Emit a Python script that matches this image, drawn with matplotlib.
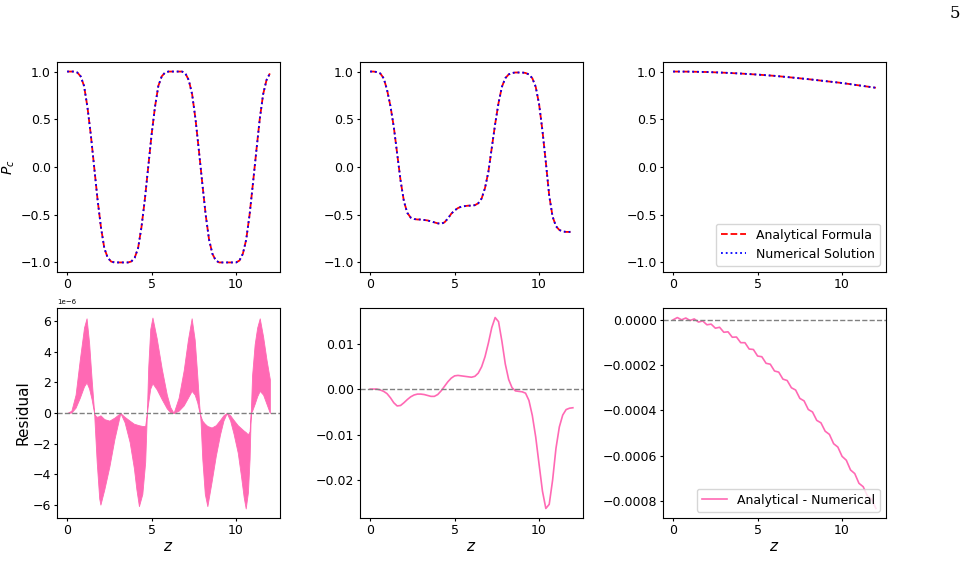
import numpy as np
import matplotlib
matplotlib.use("Agg")
import matplotlib.pyplot as plt

# z grid for the P_c curves
z_top = np.arange(0, 12.01, 0.2)

pc_a = [1.0, 1.0, 1.0, 0.99, 0.95, 0.85, 0.63, 0.34, 0.0, -0.34, -0.63,
        -0.85, -0.95, -0.99, -1.0, -1.0, -1.0, -1.0, -1.0, -0.99, -0.95,
        -0.85, -0.63, -0.34, 0.0, 0.34, 0.63, 0.85, 0.95, 0.99, 1.0, 1.0,
        1.0, 1.0, 1.0, 0.98, 0.91, 0.76, 0.50, 0.17, -0.17, -0.50, -0.76,
        -0.91, -0.98, -1.0, -1.0, -1.0, -1.0, -1.0, -1.0, -0.98, -0.91,
        -0.76, -0.50, -0.17, 0.17, 0.50, 0.76, 0.91, 0.98]

pc_b = [1.0, 1.0, 0.995, 0.98, 0.93, 0.81, 0.64, 0.42, 0.14, -0.14, -0.36,
        -0.48, -0.53, -0.545, -0.55, -0.55, -0.555, -0.56, -0.57, -0.58,
        -0.59, -0.595, -0.58, -0.54, -0.49, -0.455, -0.43, -0.415, -0.41,
        -0.405, -0.405, -0.40, -0.38, -0.33, -0.22, -0.05, 0.20, 0.45, 0.67,
        0.84, 0.93, 0.97, 0.985, 0.99, 0.99, 0.99, 0.985, 0.97, 0.93, 0.84,
        0.66, 0.38, 0.05, -0.30, -0.52, -0.62, -0.66, -0.675, -0.68, -0.68,
        -0.675]

z_c = np.arange(0, 13, 1.0)
pc_c = [1.0, 0.999, 0.995, 0.988, 0.979, 0.968, 0.955, 0.938, 0.92, 0.90,
        0.88, 0.855, 0.83]

# residual band of panel (a), upper / lower envelope in units of 1e-6
z_env = [0.0, 0.25, 0.5, 0.75, 1.0, 1.15, 1.3, 1.45, 1.58, 1.6, 1.62, 1.75,
         1.9, 1.97, 2.2, 2.5, 2.8, 3.15, 3.4, 3.7, 3.95, 4.1, 4.25, 4.45,
         4.62, 4.72, 4.8, 4.92, 5.05, 5.3, 5.6, 5.9, 6.1, 6.3, 6.6, 6.9,
         7.15, 7.37, 7.55, 7.7, 7.82, 7.86, 7.9, 8.0, 8.15, 8.3, 8.55, 8.8,
         9.05, 9.25, 9.45, 9.65, 9.85, 10.1, 10.3, 10.45, 10.57, 10.7, 10.8,
         10.87, 10.95, 11.1, 11.25, 11.4, 11.6, 11.8, 12.0]
res_a_hi = [0, 0.15, 1.2, 3.5, 5.6, 6.2, 4.6, 2.2, 0.3, 0, -0.1, -0.25, -0.2,
            -0.15, -0.4, -0.5, -0.3, 0, -0.25, -0.5, -0.7, -0.75, -0.8, -0.85,
            -0.85, 0, 3.0, 5.5, 6.25, 4.9, 2.9, 1.2, 0.4, 0, 1.0, 2.8, 4.8,
            6.2, 4.8, 2.5, 0.5, 0, -0.2, -0.5, -0.7, -0.85, -0.95, -0.8,
            -0.45, -0.15, 0, -0.15, -0.45, -0.8, -1.0, -1.15, -1.25, -1.4,
            -1.2, 0, 2.5, 4.5, 5.6, 6.2, 5.0, 3.5, 2.2]
res_a_lo = [0, 0.03, 0.35, 1.0, 1.75, 2.0, 1.6, 0.9, 0.1, 0, -0.5, -3.2,
            -5.6, -6.0, -5.0, -3.5, -1.7, 0, -0.6, -1.9, -3.6, -5.0, -6.1,
            -5.3, -3.2, 0, 0.7, 1.6, 1.95, 1.55, 0.9, 0.3, 0.05, 0, 0.15, 0.5,
            1.0, 1.45, 1.2, 0.7, 0.1, 0, -0.6, -3.0, -5.3, -6.1, -4.5, -2.8,
            -1.4, -0.5, 0, -0.5, -1.35, -2.6, -4.2, -5.5, -6.25, -5.2, -3.0,
            0, 0.15, 0.6, 1.1, 1.45, 1.2, 0.6, 0.0]

# panel (b) residual on the same 0.2 grid as the P_c curves
res_b = [0, 0, 0, -0.0002, -0.0005, -0.001, -0.0019, -0.003, -0.0037,
         -0.0036, -0.003, -0.0023, -0.0017, -0.0013, -0.0011, -0.0011,
         -0.0012, -0.0014, -0.0016, -0.0016, -0.0012, -0.0004, 0.0006,
         0.0016, 0.0024, 0.0029, 0.003, 0.0029, 0.0028, 0.0027, 0.0026,
         0.0028, 0.0035, 0.0049, 0.0071, 0.0101, 0.0135, 0.0157, 0.0148,
         0.0105, 0.0055, 0.0021, 0.0003, -0.0004, -0.0005, -0.0006, -0.0009,
         -0.0025, -0.0058, -0.0105, -0.0165, -0.0224, -0.0262, -0.0253,
         -0.0200, -0.0130, -0.0083, -0.0057, -0.0045, -0.0042, -0.0041]

# panel (c) residual in units of 1e-4
z_r3 = np.arange(0, 12.01, 0.25)
res_c = [0.00, 0.10, 0.00, 0.08, -0.03, 0.04, -0.10, -0.05, -0.22, -0.19,
         -0.37, -0.33, -0.55, -0.53, -0.77, -0.76, -1.01, -1.01, -1.29,
         -1.31, -1.60, -1.63, -1.92, -1.96, -2.26, -2.31, -2.62, -2.68,
         -3.00, -3.10, -3.47, -3.58, -3.96, -4.07, -4.44, -4.55, -4.92,
         -5.06, -5.47, -5.62, -6.03, -6.20, -6.63, -6.79, -7.22, -7.37,
         -7.78, -7.92, -8.33]

pink = "hotpink"
fig = plt.figure(figsize=(9.66, 5.88), dpi=100)
W, H = 966, 588
lefts = [57, 360, 663]
tops = [62, 308]
aw, ah = 223, 210

axes = [[fig.add_axes([l / W, 1 - (t + ah) / H, aw / W, ah / H]) for l in lefts]
        for t in tops]

for ax, pc, zz in zip(axes[0], [pc_a, pc_b, pc_c], [z_top, z_top, z_c]):
    ax.plot(zz, pc, 'r--', lw=1.3, label='Analytical Formula')
    ax.plot(zz, pc, 'b:', lw=1.3, label='Numerical Solution')
    ax.set_ylim(-1.1, 1.1)
    ax.set_yticks([-1.0, -0.5, 0.0, 0.5, 1.0])
axes[0][0].set_ylabel('$P_c$', fontsize=10)
axes[0][0].yaxis.set_label_coords(-0.18, 0.5)
axes[0][2].legend(loc='lower right', fontsize=9)

ax = axes[1][0]
ax.fill_between(z_env, np.array(res_a_lo) * 1e-6, np.array(res_a_hi) * 1e-6,
                color=pink, lw=0.6)
ax.set_ylabel('Residual', fontsize=11)
ax.yaxis.set_label_coords(-0.12, 0.5)
ax.yaxis.offsetText.set_fontsize(5)

axes[1][1].plot(z_top, res_b, color=pink, lw=1.2)
axes[1][2].plot(z_r3, np.array(res_c) * 1e-4, color=pink, lw=1.2,
                label='Analytical - Numerical')
axes[1][2].legend(loc='lower right', fontsize=9)

for ax in axes[1]:
    ax.axhline(0, color='gray', ls='--', lw=1)
    ax.set_xlabel('$z$', fontsize=11, labelpad=1)

for row in axes:
    for ax in row:
        ax.set_xticks([0, 5, 10])
        ax.tick_params(direction='out', length=2, pad=2.5, labelsize=9)

fig.text(955 / W, 1 - 14 / H, '5', family='DejaVu Serif', fontsize=12,
         ha='center', va='center')

fig.savefig('out.png', dpi=100)
